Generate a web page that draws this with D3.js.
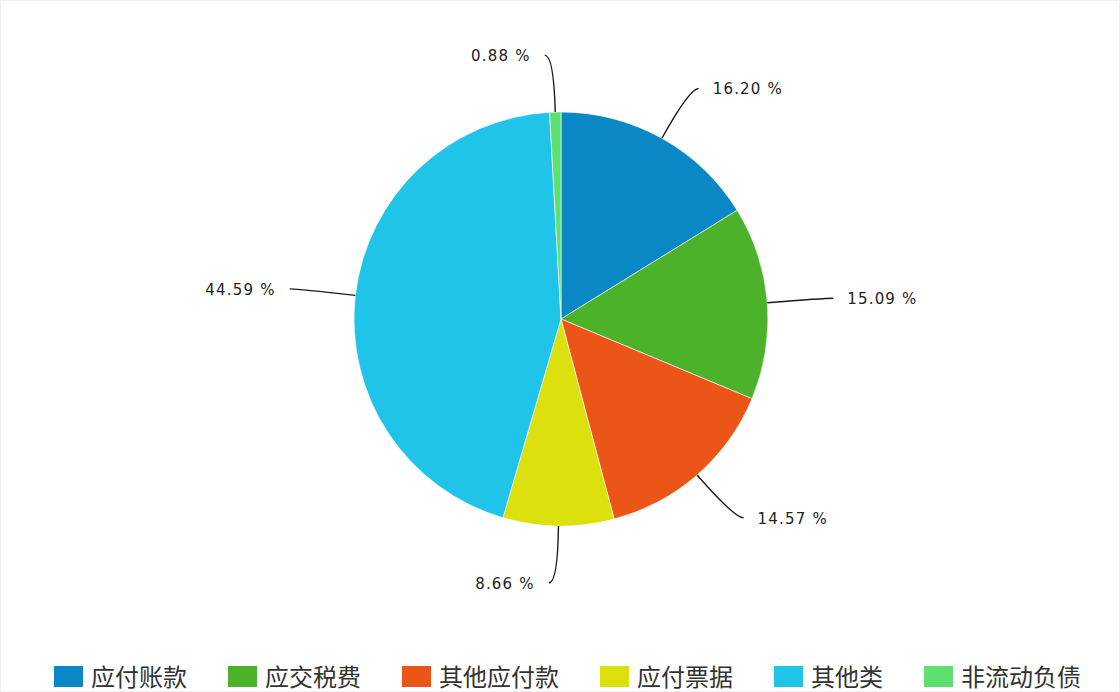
<!DOCTYPE html>
<html>
<head>
<meta charset="utf-8">
<script src="https://cdn.jsdelivr.net/npm/d3@7"></script>
<style>
  html, body { margin: 0; padding: 0; background: #fff; }
  #chart { width: 1120px; height: 692px; }
</style>
</head>
<body>
<div id="chart"></div>
<script>
// Dados do gráfico
const categories = ["应付账款", "应交税费", "其他应付款", "应付票据", "其他类", "非流动负债"];
const values = [16.20, 15.09, 14.57, 8.66, 44.59, 0.88];
const colors = ["#0a88c6", "#4cb22a", "#ec5518", "#dce00c", "#1fc4e8", "#5ee070"];

const width = 1120;
const height = 692;
const cx = 561, cy = 319;
const radius = 207;

const svg = d3.select("#chart")
    .append("svg")
    .attr("width", width)
    .attr("height", height);

// fundo com borda leve
svg.append("rect")
    .attr("x", 0.5).attr("y", 0.5)
    .attr("width", width - 1).attr("height", height - 1)
    .attr("fill", "#fff")
    .attr("stroke", "#f0f0f2");

const color = d3.scaleOrdinal().domain(categories).range(colors);

const pie = d3.pie()
    .sort(null)
    .value(d => d.value);

const data = categories.map((c, i) => ({ name: c, value: values[i] }));
const arcs = pie(data);

const arc = d3.arc().innerRadius(0).outerRadius(radius);

const g = svg.append("g").attr("transform", `translate(${cx},${cy})`);

// fatias
g.selectAll("path.slice")
    .data(arcs)
    .enter()
    .append("path")
    .attr("class", "slice")
    .attr("d", arc)
    .attr("fill", d => color(d.data.name))
    .attr("stroke", "rgba(255,255,255,0.6)")
    .attr("stroke-width", 1);

// linhas guia curvas + rótulos
const ctrlR = radius + 57;
arcs.forEach(d => {
    const a = (d.startAngle + d.endAngle) / 2;
    const sx = Math.sin(a) * radius, sy = -Math.cos(a) * radius;
    const qx = Math.sin(a) * ctrlR, qy = -Math.cos(a) * ctrlR;
    const right = Math.sin(a) >= 0 && a < Math.PI;
    const ex = qx + (right ? 9 : -9), ey = qy;
    const path = d3.path();
    path.moveTo(sx, sy);
    path.quadraticCurveTo(qx, qy, ex, ey);
    g.append("path")
        .attr("d", path.toString())
        .attr("fill", "none")
        .attr("stroke", "#1a1a1a")
        .attr("stroke-width", 1.4);
    g.append("text")
        .attr("x", ex + (right ? 14 : -14))
        .attr("y", ey)
        .attr("dy", "0.4em")
        .attr("text-anchor", right ? "start" : "end")
        .style("font-family", "'DejaVu Sans', sans-serif")
        .style("font-size", "15px")
        .style("letter-spacing", "1.2px")
        .style("fill", "#222")
        .text(d3.format(".2f")(d.data.value) + " %");
});

// legenda
const legend = svg.append("g").attr("class", "legend");
let lx = 54;
categories.forEach((c, i) => {
    const item = legend.append("g").attr("transform", `translate(${lx},666)`);
    item.append("rect")
        .attr("width", 29)
        .attr("height", 21)
        .attr("fill", color(c));
    const t = item.append("text")
        .attr("x", 37)
        .attr("y", 20)
        .style("font-family", "'Noto Sans CJK SC', sans-serif")
        .style("font-size", "24px")
        .style("fill", "#333")
        .text(c);
    lx += 37 + t.node().getComputedTextLength() + 41;
});
</script>
</body>
</html>
